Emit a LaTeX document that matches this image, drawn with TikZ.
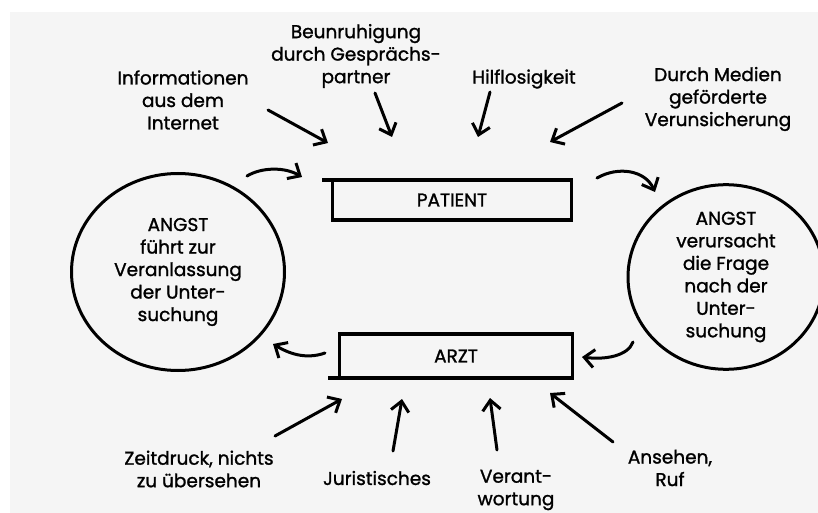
\documentclass[tikz,border=0pt]{standalone}
\usepackage{fontspec}
\setmainfont{Poppins}[FakeBold=1.3]
\usetikzlibrary{arrows.meta,shapes.geometric}

\begin{document}
\begin{tikzpicture}[x=1pt,y=-1pt, >={Straight Barb[length=10pt,width=18pt]},
  every node/.style={align=center,font=\fontsize{18.5}{22.5}\selectfont},
  box/.style={draw,line width=3.5pt,inner sep=0pt,outer sep=0pt},
  angst/.style={draw,ellipse,line width=3pt,inner sep=0pt},
  arr/.style={->,line width=3pt,line cap=round}]
\useasboundingbox (0,0) rectangle (818,513);
\fill[black!4] (10,12) rectangle (818,513);
% boxes and ellipses
\node[box,minimum width=239pt,minimum height=40pt] (patient) at (452,200) {PATIENT};
\node[box,minimum width=233pt,minimum height=44pt] (arzt) at (456,356) {ARZT};
\draw[line width=3.5pt] (patient.north west) -- ++(-11,0);
\draw[line width=3.5pt] (arzt.south west) -- ++(-12,0);
\node[angst,minimum width=213pt,minimum height=197pt] (links) at (178,272) {ANGST\\führt zur\\Veranlassung\\der Unter-\\suchung};
\node[angst,minimum width=196pt,minimum height=184pt] (rechts) at (726,277) {ANGST\\verursacht\\die Frage\\nach der\\Unter-\\suchung};
% labels
\node (info) at (183,100) {Informationen\\aus dem\\Internet};
\node (beun) at (356,56) {Beunruhigung\\durch Gesprächs-\\partner};
\node (hilf) at (524,79) {Hilflosigkeit};
\node (medien) at (718,99) {Durch Medien\\geförderte\\Verunsicherung};
\node (zeit) at (199,469) {Zeitdruck, nichts\\zu übersehen};
\node (jur) at (377,478) {Juristisches};
\node (verant) at (516,490) {Verant-\\wortung};
\node (ansehen) at (670,468) {Ansehen,\\Ruf};
% arrow ends
\coordinate (info-a) at (268,110); \coordinate (info-b) at (328,143);
\coordinate (beun-a) at (375,93); \coordinate (beun-b) at (392,137);
\coordinate (hilf-a) at (490,92); \coordinate (hilf-b) at (478,137);
\coordinate (medien-a) at (622,103); \coordinate (medien-b) at (550,142);
\coordinate (zeit-a) at (275,436); \coordinate (zeit-b) at (342,399);
\coordinate (jur-a) at (393,451); \coordinate (jur-b) at (402,399);
\coordinate (verant-a) at (497,450); \coordinate (verant-b) at (490,398);
\coordinate (ansehen-a) at (613,442); \coordinate (ansehen-b) at (550,393);
\coordinate (lp-a) at (247,176); \coordinate (lp-b) at (302,177);
\coordinate (rp-a) at (597,178); \coordinate (rp-b) at (655,192);
\coordinate (ra-a) at (633,342); \coordinate (ra-b) at (582,357);
\coordinate (la-a) at (325,353); \coordinate (la-b) at (273,344);
\draw[arr] (info-a)--(info-b);\draw[arr] (beun-a)--(beun-b);\draw[arr] (hilf-a)--(hilf-b);\draw[arr] (medien-a)--(medien-b);
\draw[arr] (zeit-a)--(zeit-b);\draw[arr] (jur-a)--(jur-b);\draw[arr] (verant-a)--(verant-b);\draw[arr] (ansehen-a)--(ansehen-b);
\draw[arr] (lp-a) .. controls (262,167) and (285,167) .. (lp-b);
\draw[arr] (rp-a) .. controls (618,166) and (645,170) .. (rp-b);
\draw[arr] (ra-a) .. controls (628,356) and (605,360) .. (ra-b);
\draw[arr] (la-a) .. controls (305,360) and (288,353) .. (la-b);
\end{tikzpicture}
\end{document}
